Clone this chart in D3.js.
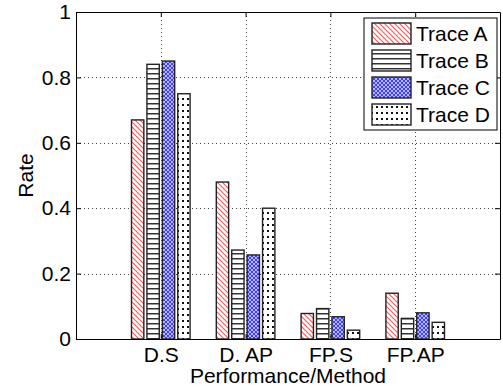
<!DOCTYPE html>
<html>
<head>
<meta charset="utf-8">
<script src="https://cdn.jsdelivr.net/npm/d3@7"></script>
<style>
  body { margin: 0; background: #fff; }
  text { font-family: Arial, "Liberation Sans", sans-serif; }
</style>
</head>
<body>
<svg id="chart" width="503" height="391"></svg>
<script>
// categories and series
var categories = ['D.S', 'D. AP', 'FP.S', 'FP.AP'];
var seriesNames = ['Trace A', 'Trace B', 'Trace C', 'Trace D'];
var traceA = [0.67, 0.48, 0.078, 0.14];
var traceB = [0.84, 0.272, 0.093, 0.063];
var traceC = [0.85, 0.257, 0.068, 0.08];
var traceD = [0.75, 0.40, 0.027, 0.051];
var yTicks = [0, 0.2, 0.4, 0.6, 0.8, 1];

var series = [traceA, traceB, traceC, traceD];

var svg = d3.select('#chart');
var mLeft = 76, mRight = 500, mTop = 12, mBottom = 339;
var fontSize = 21;

var x = d3.scaleLinear().domain([0, 5]).range([mLeft, mRight]);
var y = d3.scaleLinear().domain([0, 1]).range([mBottom, mTop]);

// hatch patterns
var defs = svg.append('defs');

var pA = defs.append('pattern').attr('id', 'pA')
    .attr('patternUnits', 'userSpaceOnUse').attr('width', 5).attr('height', 5);
pA.append('rect').attr('width', 5).attr('height', 5).attr('fill', '#fff');
pA.append('path').attr('d', 'M0,0 L5,5 M-1,4 L1,6 M4,-1 L6,1')
    .attr('stroke', '#ff5555').attr('stroke-width', 1.1);

var pB = defs.append('pattern').attr('id', 'pB')
    .attr('patternUnits', 'userSpaceOnUse').attr('width', 6).attr('height', 5);
pB.append('rect').attr('width', 6).attr('height', 5).attr('fill', '#fff');
pB.append('rect').attr('y', 3).attr('width', 6).attr('height', 1.5).attr('fill', '#333');

var pC = defs.append('pattern').attr('id', 'pC')
    .attr('patternUnits', 'userSpaceOnUse').attr('width', 4).attr('height', 4);
pC.append('rect').attr('width', 4).attr('height', 4).attr('fill', '#b8b8ff');
pC.append('path').attr('d', 'M0,0 L4,4 M4,0 L0,4')
    .attr('stroke', '#3030ff').attr('stroke-width', 0.9);

var pD = defs.append('pattern').attr('id', 'pD')
    .attr('patternUnits', 'userSpaceOnUse').attr('width', 5).attr('height', 6);
pD.append('rect').attr('width', 5).attr('height', 6).attr('fill', '#fff');
pD.append('rect').attr('x', 2).attr('y', 2).attr('width', 2).attr('height', 2).attr('fill', '#111');

var fills = ['url(#pA)', 'url(#pB)', 'url(#pC)', 'url(#pD)'];

// grid
var cats = d3.range(1, categories.length + 1);
svg.append('g').selectAll('line')
    .data(yTicks.filter(function(t){ return t > 0 && t < 1; }))
    .enter().append('line')
    .attr('x1', mLeft).attr('x2', mRight)
    .attr('y1', function(d){ return Math.round(y(d)) + 0.5; })
    .attr('y2', function(d){ return Math.round(y(d)) + 0.5; })
    .attr('stroke', '#444').attr('stroke-width', 1)
    .attr('stroke-dasharray', '1,3');
svg.append('g').selectAll('line')
    .data(cats)
    .enter().append('line')
    .attr('y1', mTop).attr('y2', mBottom)
    .attr('x1', function(d){ return Math.round(x(d)) + 0.5; })
    .attr('x2', function(d){ return Math.round(x(d)) + 0.5; })
    .attr('stroke', '#444').attr('stroke-width', 1)
    .attr('stroke-dasharray', '1,3');

// bars (matlab grouped layout)
var groupW = Math.min(0.8, 4 / (4 + 1.5));
var slot = groupW / 4;
var barW = slot * 0.8;

series.forEach(function(vals, s) {
    svg.append('g').selectAll('rect')
        .data(vals)
        .enter().append('rect')
        .attr('x', function(d, i){ return x(i + 1 - groupW / 2 + slot * s + (slot - barW) / 2); })
        .attr('width', x(barW) - x(0))
        .attr('y', function(d){ return y(d); })
        .attr('height', function(d){ return y(0) - y(d); })
        .attr('fill', fills[s])
        .attr('stroke', '#222').attr('stroke-width', 1.4);
});

// axes box
var xAxis = d3.axisBottom(x).tickValues(cats)
    .tickFormat(function(d){ return categories[d - 1]; })
    .tickSizeInner(-5).tickSizeOuter(0).tickPadding(8);
var yAxis = d3.axisLeft(y).tickValues(yTicks)
    .tickFormat(d3.format('~g'))
    .tickSizeInner(-5).tickSizeOuter(0).tickPadding(5);

var gx = svg.append('g').attr('transform', 'translate(0,' + mBottom + ')').call(xAxis);
var gy = svg.append('g').attr('transform', 'translate(' + mLeft + ',0)').call(yAxis);
var gx2 = svg.append('g').attr('transform', 'translate(0,' + mTop + ')')
    .call(d3.axisTop(x).tickValues(cats).tickFormat('').tickSizeInner(-5).tickSizeOuter(0));
var gy2 = svg.append('g').attr('transform', 'translate(' + mRight + ',0)')
    .call(d3.axisRight(y).tickValues(yTicks).tickFormat('').tickSizeInner(-5).tickSizeOuter(0));

[gx, gy, gx2, gy2].forEach(function(g) {
    g.select('.domain').attr('stroke', '#000');
    g.selectAll('.tick line').attr('stroke', '#000');
    g.selectAll('text').attr('font-size', fontSize).attr('fill', '#000')
        .attr('font-family', 'Arial, "Liberation Sans", sans-serif');
});

svg.append('text')
    .attr('x', (mLeft + mRight) / 2).attr('y', 383)
    .attr('text-anchor', 'middle').attr('font-size', fontSize)
    .text('Performance/Method');
svg.append('text')
    .attr('transform', 'translate(33,' + ((mTop + mBottom) / 2) + ') rotate(-90)')
    .attr('text-anchor', 'middle').attr('font-size', fontSize)
    .text('Rate');

// legend
var lg = svg.append('g').attr('transform', 'translate(364,18)');
lg.append('rect').attr('width', 133).attr('height', 112)
    .attr('fill', '#fff').attr('stroke', '#000');
seriesNames.forEach(function(name, s) {
    var row = lg.append('g').attr('transform', 'translate(0,' + (5 + s * 27) + ')');
    row.append('rect').attr('x', 8).attr('y', 0).attr('width', 39).attr('height', 21)
        .attr('fill', fills[s]).attr('stroke', '#222').attr('stroke-width', 1.4);
    row.append('text').attr('x', 52).attr('y', 18).attr('font-size', fontSize).text(name);
});
</script>
</body>
</html>
